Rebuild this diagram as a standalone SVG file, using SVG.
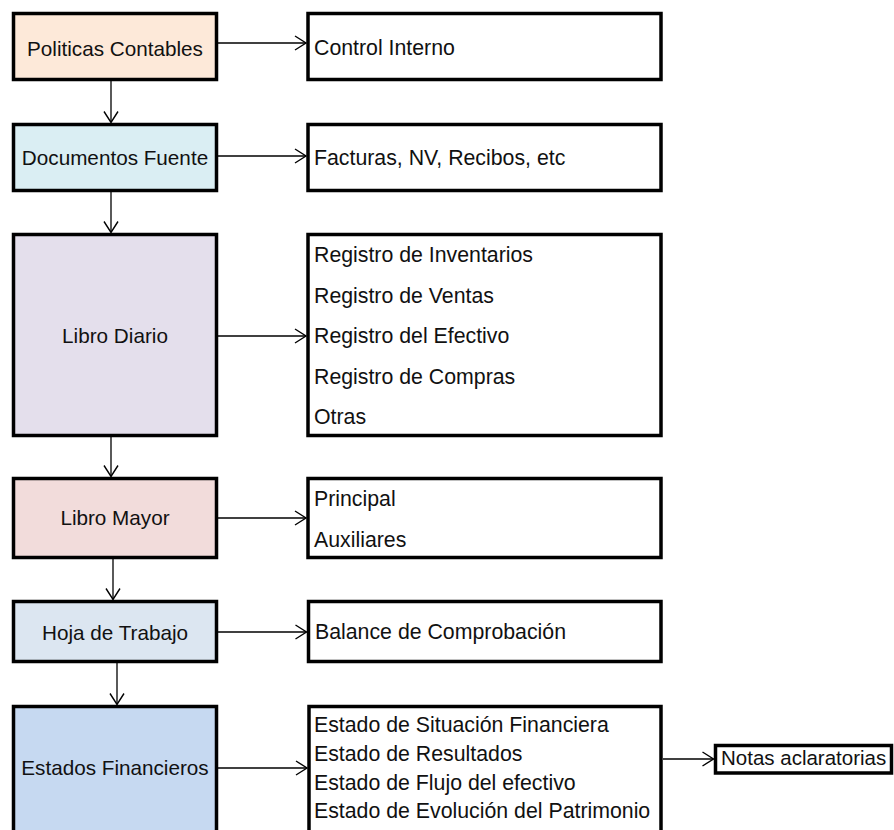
<svg xmlns="http://www.w3.org/2000/svg" width="894" height="830" viewBox="0 0 894 830">
<style>
.box{stroke:#000;stroke-width:3.5;}
.wbox{fill:#fff;stroke:#000;stroke-width:3.5;}
.t{font-family:"Liberation Sans",Arial,sans-serif;font-size:21.3px;fill:#111;}
.c{text-anchor:middle;font-size:20.7px;}
.con line{stroke:#000;stroke-width:1.3;fill:none;marker-end:url(#ah);}
</style>
<defs>
<marker id="ah" markerUnits="userSpaceOnUse" markerWidth="14" markerHeight="16" viewBox="0 0 14 16" refX="12" refY="8" orient="auto">
<path d="M1,1 L12,8 L1,15" fill="none" stroke="#000" stroke-width="1.4"/>
</marker>
</defs>
<rect width="894" height="830" fill="#fff"/>
<g id="n1"><rect class="box" x="13.5" y="13.5" width="203" height="66" fill="#FDE9D9"/><text class="t c" x="115" y="56">Politicas Contables</text></g>
<g id="n1r"><rect class="wbox" x="308" y="13.5" width="353" height="66"/><text class="t" x="314" y="55">Control Interno</text></g>
<g id="n2"><rect class="box" x="13.5" y="124.5" width="203" height="66" fill="#DAEEF3"/><text class="t c" x="115" y="165">Documentos Fuente</text></g>
<g id="n2r"><rect class="wbox" x="308" y="124.5" width="353" height="66"/><text class="t" x="314" y="165">Facturas, NV, Recibos, etc</text></g>
<g id="n3"><rect class="box" x="13.5" y="234.5" width="203" height="201" fill="#E4DFEC"/><text class="t c" x="115" y="343">Libro Diario</text></g>
<g id="n3r"><rect class="wbox" x="308" y="234.5" width="353" height="201"/>
<text class="t" x="314" y="262">Registro de Inventarios</text>
<text class="t" x="314" y="302.5">Registro de Ventas</text>
<text class="t" x="314" y="343">Registro del Efectivo</text>
<text class="t" x="314" y="383.5">Registro de Compras</text>
<text class="t" x="314" y="424">Otras</text></g>
<g id="n4"><rect class="box" x="13.5" y="478.5" width="203" height="79" fill="#F2DCDB"/><text class="t c" x="115" y="525">Libro Mayor</text></g>
<g id="n4r"><rect class="wbox" x="308" y="478.5" width="353" height="79"/>
<text class="t" x="314" y="506">Principal</text>
<text class="t" x="314" y="547">Auxiliares</text></g>
<g id="n5"><rect class="box" x="13.5" y="601.5" width="203" height="60" fill="#DCE6F1"/><text class="t c" x="115" y="640">Hoja de Trabajo</text></g>
<g id="n5r"><rect class="wbox" x="308.5" y="601.5" width="352.5" height="60"/><text class="t" x="315" y="639">Balance de Comprobación</text></g>
<g id="n6"><rect class="box" x="13.5" y="706.5" width="203" height="200" fill="#C6D9F1"/><text class="t c" x="115" y="775">Estados Financieros</text></g>
<g id="n6r"><rect class="wbox" x="309" y="706.5" width="352" height="200"/>
<text class="t" x="314" y="732">Estado de Situación Financiera</text>
<text class="t" x="314" y="761">Estado de Resultados</text>
<text class="t" x="314" y="790">Estado de Flujo del efectivo</text>
<text class="t" x="314" y="818">Estado de Evolución del Patrimonio</text></g>
<g id="n7"><rect class="wbox" x="715.5" y="745.5" width="176" height="27.5"/><text class="t" x="721" y="765" style="font-size:20.5px">Notas aclaratorias</text></g>
<g id="connectors" class="con">
<line x1="218" y1="43" x2="306" y2="43"/>
<line x1="218" y1="156" x2="306" y2="156"/>
<line x1="218" y1="336" x2="306" y2="336"/>
<line x1="218" y1="518" x2="306" y2="518"/>
<line x1="218" y1="632" x2="306.5" y2="632"/>
<line x1="218" y1="768" x2="307" y2="768"/>
<line x1="663" y1="759" x2="713.5" y2="759"/>
<line x1="111" y1="81" x2="111" y2="122.5"/>
<line x1="111" y1="192" x2="111" y2="232.5"/>
<line x1="111" y1="437" x2="111" y2="476.5"/>
<line x1="113" y1="559" x2="113" y2="599.5"/>
<line x1="117" y1="663" x2="117" y2="704.5"/>
</g>
</svg>
